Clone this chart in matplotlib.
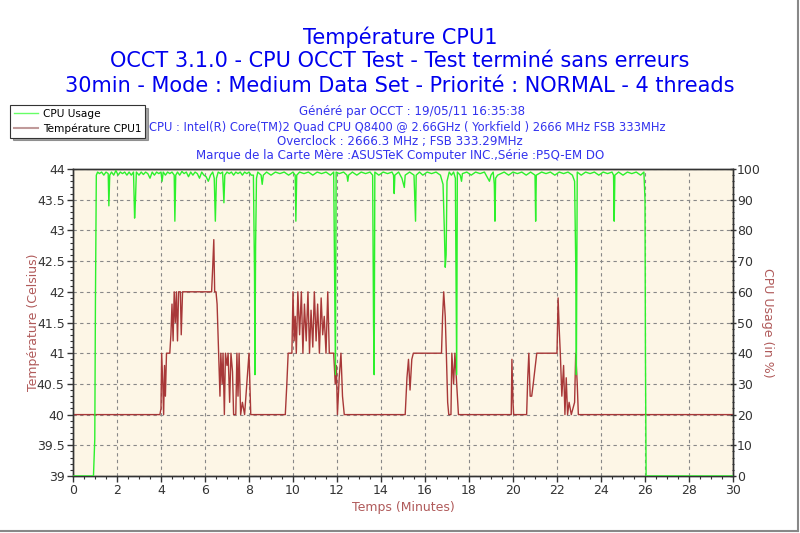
import matplotlib
matplotlib.use("Agg")
import matplotlib.pyplot as plt
from matplotlib.lines import Line2D
from matplotlib.ticker import MultipleLocator

# ---------------- data ----------------
temp_t = [0.0, 3.95, 4.00, 4.03, 4.08, 4.12, 4.16, 4.20, 4.25, 4.40, 4.45, 4.50, 4.55, 4.60, 4.65,
          4.70, 4.75, 4.80, 4.88, 4.92, 4.98, 6.30, 6.35, 6.40, 6.44, 6.50, 6.55, 6.62, 6.68, 6.72,
          6.78, 6.82, 6.88, 6.93, 7.00, 7.05, 7.12, 7.18, 7.25, 7.30, 7.40, 7.45, 7.50, 7.55, 7.62,
          7.70, 7.80, 8.00, 8.08, 9.65, 9.72, 9.78, 9.95, 10.00, 10.05, 10.10, 10.15, 10.22, 10.30,
          10.38, 10.45, 10.52, 10.60, 10.68, 10.75, 10.82, 10.90, 10.97, 11.05, 11.12, 11.20, 11.28,
          11.35, 11.42, 11.50, 11.58, 11.65, 11.85, 11.92, 11.97, 12.02, 12.10, 12.18, 12.25, 12.33,
          15.10, 15.18, 15.25, 15.32, 15.40, 15.47, 16.75, 16.80, 16.85, 16.92, 16.97, 17.03, 17.08,
          17.18, 17.22, 17.30, 17.36, 17.44, 17.52, 19.92, 19.95, 20.00, 20.03, 20.62, 20.67, 20.72,
          20.78, 20.85, 20.92, 21.08, 22.00, 22.05, 22.10, 22.15, 22.22, 22.30, 22.36, 22.42, 22.48,
          22.55, 22.65, 22.80, 22.85, 22.92, 22.97, 30.0]
temp_v = [40, 40, 40.1, 41, 40.5, 40, 40.8, 40.3, 41, 41, 41.3, 41.8, 41.2, 42, 41.5,
          42, 41.2, 42, 42, 41.3, 42, 42, 42.4, 42.85, 42.0, 42, 41.8, 41, 40.3, 41,
          40.5, 41, 40, 41, 40.8, 41, 40.2, 41, 40.7, 40, 40, 41, 40.3, 41, 40,
          40.2, 40, 41, 40, 40, 40.5, 41, 41, 42, 41.2, 41.6, 41, 42, 41.3,
          42, 41, 41.8, 41.2, 42, 41, 41.7, 41.1, 42, 41.2, 41.8, 41, 41.9,
          41.3, 41.6, 41, 42, 41, 41, 40.5, 40.8, 40, 40.6, 41, 40.3, 40,
          40, 40.6, 40.9, 40.4, 40.9, 41, 41, 41.6, 42, 41.6, 41, 40.2, 40,
          40, 41, 40.5, 41, 40.5, 40, 40, 40.9, 40.2, 40, 40, 40.6, 41,
          40.3, 40.3, 40.5, 41, 41, 41.9, 41.4, 41, 40.3, 40.8, 40, 40.6, 40,
          40.2, 40, 40.2, 41, 40.5, 40, 40]

cpu_t = [0.0, 0.93, 0.96, 0.99, 1.02, 1.06, 1.12, 1.2, 1.3, 1.4, 1.5, 1.6, 1.63, 1.67, 1.75, 1.85,
         1.95, 2.05, 2.15, 2.25, 2.35, 2.45, 2.55, 2.65, 2.75, 2.80, 2.84, 2.88, 3.0, 3.1, 3.2, 3.3,
         3.4, 3.5, 3.6, 3.7, 3.8, 3.9, 4.0, 4.05, 4.1, 4.2, 4.3, 4.4, 4.5, 4.6, 4.63, 4.67, 4.75,
         4.85, 4.95, 5.05, 5.15, 5.25, 5.35, 5.45, 5.55, 5.65, 5.75, 5.85, 5.95, 6.05, 6.15, 6.25,
         6.35, 6.42, 6.47, 6.52, 6.6, 6.7, 6.8, 6.86, 6.9, 7.0, 7.1, 7.2, 7.3, 7.4, 7.5, 7.6, 7.7,
         7.8, 7.9, 8.0, 8.1, 8.2, 8.25, 8.27, 8.30, 8.34, 8.4, 8.55, 8.6, 8.65, 8.8, 9.0, 9.2, 9.4,
         9.6, 9.8, 10.0, 10.1, 10.13, 10.17, 10.3, 10.5, 10.7, 10.9, 11.1, 11.3, 11.5, 11.7, 11.85,
         11.9, 11.93, 11.96, 12.1, 12.3, 12.45, 12.49, 12.53, 12.7, 12.9, 13.1, 13.3, 13.5, 13.62,
         13.66, 13.69, 13.72, 13.9, 14.1, 14.3, 14.5, 14.57, 14.6, 14.63, 14.8, 14.95, 15.06, 15.1,
         15.3, 15.5, 15.57, 15.6, 15.75, 15.9, 16.1, 16.3, 16.5, 16.7, 16.82, 16.88, 16.92, 16.96,
         17.0, 17.1, 17.2, 17.3, 17.38, 17.41, 17.44, 17.47, 17.6, 17.66, 17.7, 17.9, 18.1, 18.3,
         18.5, 18.7, 18.85, 18.93, 19.0, 19.1, 19.15, 19.18, 19.21, 19.3, 19.45, 19.6, 19.8, 20.0,
         20.2, 20.4, 20.6, 20.8, 21.0, 21.03, 21.06, 21.3, 21.5, 21.7, 21.9, 22.1, 22.3, 22.5, 22.7,
         22.8, 22.85, 22.88, 22.92, 23.1, 23.3, 23.5, 23.7, 23.9, 24.1, 24.3, 24.5, 24.57, 24.6,
         24.63, 24.8, 25.0, 25.2, 25.4, 25.6, 25.8, 25.95, 26.0, 26.02, 26.05, 30.0]
cpu_v = [0, 0, 6, 12, 57, 98, 99, 98.5, 99, 98, 99, 98.5, 88, 98, 99, 98,
         99.5, 98, 99, 98.5, 99, 98, 99, 98, 99, 84, 90, 99, 98, 99, 98.2, 99,
         98.5, 97, 99, 98, 99, 98.5, 99, 96, 99, 98, 99, 98.5, 99, 98, 83, 98, 99,
         98, 99.2, 98.5, 99, 97.5, 99, 98, 99, 98.5, 97, 99, 98, 97.5, 96, 98,
         99, 97, 83, 97, 99, 98.5, 99, 89, 98, 99, 98.5, 99, 98, 99, 98.5, 99, 98,
         99, 98.5, 99, 98, 98, 66, 33, 75, 97, 99, 98, 95, 98, 99, 98, 99, 98.5,
         99, 98, 99, 98, 83, 98, 99, 98.5, 99, 98, 99, 98.5, 99, 98, 99,
         60, 33, 99, 98.5, 99, 98, 96, 98, 99, 98, 99, 98.5, 99, 98,
         50, 33, 99, 98, 99, 98.5, 99, 98, 92, 98, 99, 97, 94, 98,
         99, 98, 83, 98, 99, 98, 99, 98.5, 99, 98, 95, 80, 68, 72,
         96, 99, 98, 99, 97, 66, 33, 99, 98, 96, 98.5, 99, 98, 99,
         98.5, 99, 97, 96, 98, 99, 95, 83, 97, 98, 98.5, 99, 98, 99,
         98.5, 99, 98, 99, 98, 83, 98, 99, 98.5, 99, 98, 99, 98.5, 99, 98,
         96, 70, 33, 99, 98, 99, 98.5, 99, 98, 99, 98.5, 99, 98, 83,
         98, 99, 98, 99, 98.5, 99, 98, 99, 90, 40, 0, 0]

x_ticks = [0, 2, 4, 6, 8, 10, 12, 14, 16, 18, 20, 22, 24, 26, 28, 30]
y_left_ticks = [39, 39.5, 40, 40.5, 41, 41.5, 42, 42.5, 43, 43.5, 44]
y_left_labels = ["39", "39.5", "40", "40.5", "41", "41.5", "42", "42.5", "43", "43.5", "44"]
y_right_ticks = [0, 10, 20, 30, 40, 50, 60, 70, 80, 90, 100]

titles = ["Température CPU1",
          "OCCT 3.1.0 - CPU OCCT Test - Test terminé sans erreurs",
          "30min - Mode : Medium Data Set - Priorité : NORMAL - 4 threads"]
subtitles = ["Généré par OCCT : 19/05/11 16:35:38",
             "CPU : Intel(R) Core(TM)2 Quad CPU Q8400 @ 2.66GHz ( Yorkfield ) 2666 MHz FSB 333MHz",
             "Overclock : 2666.3 MHz ; FSB 333.29MHz",
             "Marque de la Carte Mère :ASUSTeK Computer INC.,Série :P5Q-EM DO"]

# ---------------- figure ----------------
plt.rcParams['font.family'] = ['DejaVu Sans']
W, H = 800, 533
fig = plt.figure(figsize=(W / 100, H / 100), dpi=100, facecolor='white')

ax = fig.add_axes([73 / W, 57 / H, 660 / W, 307 / H])
ax.set_facecolor('#fdf6e6')
ax2 = ax.twinx()

temp_col = '#a83838'
green_col = '#2cf02c'
lab_col = '#b05a5a'
tick_col = '#333333'

ax.plot(temp_t, temp_v, color=temp_col, lw=1.0, zorder=3)
ax2.plot(cpu_t, cpu_v, color=green_col, lw=1.0, zorder=4)

ax.set_xlim(0, 30)
ax.set_ylim(39, 44)
ax2.set_ylim(0, 100)

ax.set_xticks(x_ticks)
ax.set_xticklabels([str(v) for v in x_ticks])
ax.xaxis.set_minor_locator(MultipleLocator(0.5))
ax.set_yticks(y_left_ticks)
ax.set_yticklabels(y_left_labels)
ax.yaxis.set_minor_locator(MultipleLocator(0.1))
ax2.set_yticks(y_right_ticks)
ax2.set_yticklabels([str(v) for v in y_right_ticks])
ax2.yaxis.set_minor_locator(MultipleLocator(2))

ax.grid(True, which='major', color='#888888', linestyle=(0, (3, 3)), lw=0.8)
ax.set_axisbelow(True)

for a in (ax, ax2):
    for s in a.spines.values():
        s.set_color('#333333')
        s.set_linewidth(1.0)

ax.tick_params(axis='both', which='major', labelsize=9, colors=tick_col, length=4, width=1, pad=2)
ax.tick_params(axis='both', which='minor', length=2, width=0.8, colors=tick_col)
ax2.tick_params(axis='y', which='major', labelsize=9, colors=tick_col, length=4, width=1,
                direction='inout', pad=1)
ax2.tick_params(axis='y', which='minor', length=2, width=0.8, colors=tick_col, direction='inout')

ax.set_xlabel("Temps (Minutes)", color=lab_col, fontsize=9, labelpad=3)
ax.set_ylabel("Température (Celsius)", color=lab_col, fontsize=9, labelpad=-2)
ax2.set_ylabel("CPU Usage (in %)", color=lab_col, fontsize=9, rotation=270, labelpad=9)

# titles
title_y = [37, 61, 86]
for txt, yy in zip(titles, title_y):
    fig.text(0.5, 1 - yy / H, txt, ha='center', va='center', color='#0000ee', fontsize=15)

sub_x = [412, 407, 400, 400]
sub_y = [112, 127, 141, 156]
sub_fs = [8.6, 8.3, 8.6, 8.6]
for txt, xx, yy, fs in zip(subtitles, sub_x, sub_y, sub_fs):
    fig.text(xx / W, 1 - yy / H, txt, ha='center', va='center', color='#3333ee', fontsize=fs)

# legend
handles = [Line2D([], [], color='#66ff66', lw=1), Line2D([], [], color='#c09a9a', lw=1.5)]
leg = fig.legend(handles, ["CPU Usage", "Température CPU1"], loc='upper left',
                 bbox_to_anchor=(10 / W, 1 - 105 / H), fontsize=7.6, frameon=True, fancybox=False,
                 shadow=True, handlelength=2.3, borderpad=0.35, labelspacing=0.45,
                 handletextpad=0.45, borderaxespad=0)
leg.get_frame().set_edgecolor('#333333')
leg.get_frame().set_linewidth(0.8)
leg.set_zorder(10)

# image frame lines (right and bottom)
fig.add_artist(Line2D([798 / W, 798 / W], [2 / H, 1], color='#888888', lw=1.5))
fig.add_artist(Line2D([0, 798 / W], [2 / H, 2 / H], color='#888888', lw=1.5))

fig.savefig("out.png", dpi=100, facecolor='white')
